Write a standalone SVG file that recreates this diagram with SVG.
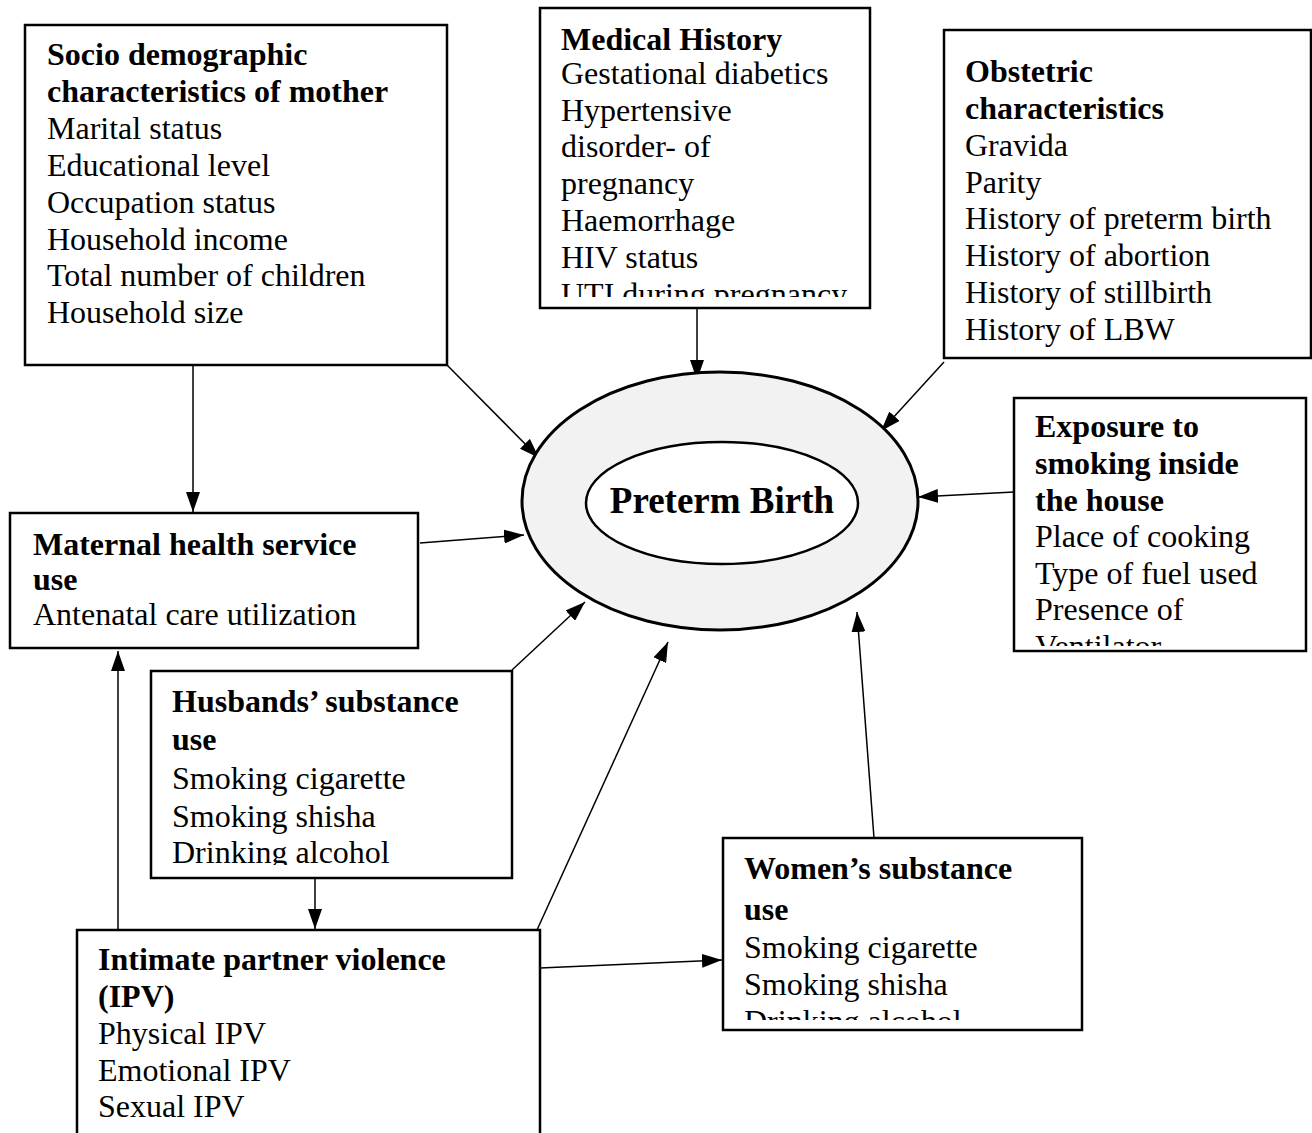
<svg xmlns="http://www.w3.org/2000/svg" width="1312" height="1133" viewBox="0 0 1312 1133">
<style>
.box{fill:#fff;stroke:#000;stroke-width:2.5}
.t{font-family:"Liberation Serif","Times New Roman",serif;font-size:32px;fill:#000}
.b{font-weight:bold}
.big{font-size:37px}
.c{stroke:#000;stroke-width:1.5;fill:none}
</style>
<defs>
<marker id="ah" viewBox="0 0 20 14" refX="20" refY="7" markerWidth="20" markerHeight="14" markerUnits="userSpaceOnUse" orient="auto">
<path d="M0,0 L20,7 L0,14 z" fill="#000"/>
</marker>
<clipPath id="cMed"><rect x="540" y="8" width="330" height="289"/></clipPath>
<clipPath id="cExp"><rect x="1014" y="398" width="292" height="248"/></clipPath>
<clipPath id="cHus"><rect x="151" y="670" width="361" height="195"/></clipPath>
<clipPath id="cWom"><rect x="723" y="838" width="359" height="182"/></clipPath>
</defs>
<rect width="1312" height="1133" fill="#fff"/>
<g id="connectors">
<line class="c" x1="447" y1="365" x2="539" y2="458" marker-end="url(#ah)"/>
<line class="c" x1="697" y1="308" x2="697" y2="380" marker-end="url(#ah)"/>
<line class="c" x1="944" y1="362" x2="881" y2="431" marker-end="url(#ah)"/>
<line class="c" x1="1014" y1="492" x2="918" y2="497" marker-end="url(#ah)"/>
<line class="c" x1="193" y1="365" x2="193" y2="512" marker-end="url(#ah)"/>
<line class="c" x1="420" y1="543" x2="524" y2="535" marker-end="url(#ah)"/>
<line class="c" x1="512" y1="670" x2="585" y2="602" marker-end="url(#ah)"/>
<line class="c" x1="537" y1="930" x2="668" y2="642" marker-end="url(#ah)"/>
<line class="c" x1="874" y1="838" x2="857" y2="612" marker-end="url(#ah)"/>
<line class="c" x1="315" y1="878" x2="315" y2="929" marker-end="url(#ah)"/>
<line class="c" x1="118" y1="930" x2="118" y2="651" marker-end="url(#ah)"/>
<line class="c" x1="540" y1="968" x2="722" y2="960" marker-end="url(#ah)"/>
</g>
<g id="preterm">
<ellipse cx="720" cy="501" rx="198" ry="129" fill="#f2f2f2" stroke="#000" stroke-width="3"/>
<ellipse cx="722" cy="503" rx="136" ry="61" fill="#fff" stroke="#000" stroke-width="2.5"/>
<text class="t b big" x="722" y="513" text-anchor="middle">Preterm Birth</text>
</g>
<g id="socio">
<rect class="box" x="25" y="25" width="422" height="340"/>
<text class="t b" x="47" y="65">Socio demographic</text>
<text class="t b" x="47" y="102">characteristics of mother</text>
<text class="t" x="47" y="139">Marital status</text>
<text class="t" x="47" y="176">Educational level</text>
<text class="t" x="47" y="213">Occupation status</text>
<text class="t" x="47" y="250">Household income</text>
<text class="t" x="47" y="286">Total number of children</text>
<text class="t" x="47" y="323">Household size</text>
</g>
<g id="medical">
<rect class="box" x="540" y="8" width="330" height="300"/>
<g clip-path="url(#cMed)">
<text class="t b" x="561" y="50">Medical History</text>
<text class="t" x="561" y="84">Gestational diabetics</text>
<text class="t" x="561" y="121">Hypertensive</text>
<text class="t" x="561" y="157">disorder- of</text>
<text class="t" x="561" y="194">pregnancy</text>
<text class="t" x="561" y="231">Haemorrhage</text>
<text class="t" x="561" y="268">HIV status</text>
<text class="t" x="561" y="305">UTI during pregnancy</text>
</g>
</g>
<g id="obstetric">
<rect class="box" x="944" y="30" width="367" height="328"/>
<text class="t b" x="965" y="82">Obstetric</text>
<text class="t b" x="965" y="119">characteristics</text>
<text class="t" x="965" y="156">Gravida</text>
<text class="t" x="965" y="193">Parity</text>
<text class="t" x="965" y="229">History of preterm birth</text>
<text class="t" x="965" y="266">History of abortion</text>
<text class="t" x="965" y="303">History of stillbirth</text>
<text class="t" x="965" y="340">History of LBW</text>
</g>
<g id="exposure">
<rect class="box" x="1014" y="398" width="292" height="253"/>
<g clip-path="url(#cExp)">
<text class="t b" x="1035" y="437">Exposure to</text>
<text class="t b" x="1035" y="474">smoking inside</text>
<text class="t b" x="1035" y="511">the house</text>
<text class="t" x="1035" y="547">Place of cooking</text>
<text class="t" x="1035" y="584">Type of fuel used</text>
<text class="t" x="1035" y="620">Presence of</text>
<text class="t" x="1035" y="657">Ventilator</text>
</g>
</g>
<g id="maternal">
<rect class="box" x="10" y="513" width="408" height="135"/>
<text class="t b" x="33" y="555">Maternal health service</text>
<text class="t b" x="33" y="590">use</text>
<text class="t" x="33" y="625">Antenatal care utilization</text>
</g>
<g id="husbands">
<rect class="box" x="151" y="671" width="361" height="207"/>
<g clip-path="url(#cHus)">
<text class="t b" x="172" y="712">Husbands’ substance</text>
<text class="t b" x="172" y="750">use</text>
<text class="t" x="172" y="789">Smoking cigarette</text>
<text class="t" x="172" y="827">Smoking shisha</text>
<text class="t" x="172" y="863">Drinking alcohol</text>
</g>
</g>
<g id="ipv">
<rect class="box" x="77" y="930" width="463" height="210"/>
<text class="t b" x="98" y="970">Intimate partner violence</text>
<text class="t b" x="98" y="1007">(IPV)</text>
<text class="t" x="98" y="1044">Physical IPV</text>
<text class="t" x="98" y="1081">Emotional IPV</text>
<text class="t" x="98" y="1117">Sexual IPV</text>
</g>
<g id="womens">
<rect class="box" x="723" y="838" width="359" height="192"/>
<g clip-path="url(#cWom)">
<text class="t b" x="744" y="879">Women’s substance</text>
<text class="t b" x="744" y="920">use</text>
<text class="t" x="744" y="958">Smoking cigarette</text>
<text class="t" x="744" y="995">Smoking shisha</text>
<text class="t" x="744" y="1032">Drinking alcohol</text>
</g>
</g>
</svg>
